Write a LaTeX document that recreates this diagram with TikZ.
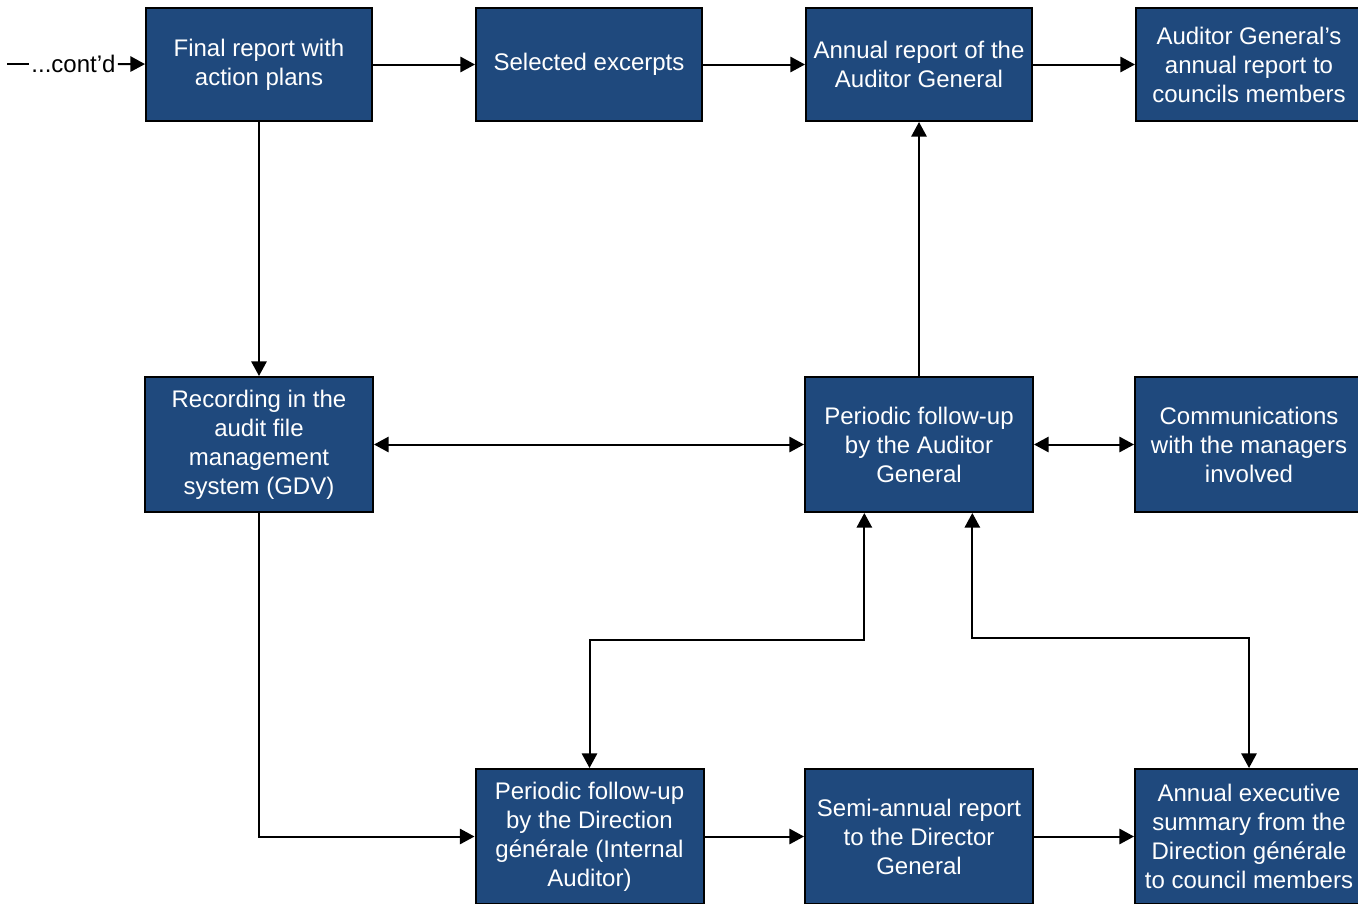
\documentclass[tikz,border=0pt]{standalone}
\usepackage{fontspec}
\setmainfont{Liberation Sans}
\usetikzlibrary{arrows.meta}

\definecolor{boxblue}{RGB}{31,73,125}

\tikzset{every picture/.style={line width=1.5pt}}
\tikzset{
	box/.style={draw=black, fill=boxblue, text=white, align=center, inner sep=0pt,
		minimum width=169.5pt, minimum height=84.75pt,
		font=\fontsize{18}{21.75}\selectfont},
	tall/.style={box, minimum width=171pt, minimum height=101.25pt},
	arr/.style={-{Triangle[length=11pt,width=11.5pt]}},
	dbl/.style={{Triangle[length=11pt,width=11.5pt]}-{Triangle[length=11pt,width=11.5pt]}}}

\begin{document}
\begin{tikzpicture}[x=0.75pt,y=0.75pt,yscale=-1,xscale=1]
	\useasboundingbox (0,0) rectangle (1358,903);

	% Top row
	\node[box] (final) at (259,64.5) {Final report with\\action plans};
	\node[box] (excerpts) at (589,64.5) {Selected excerpts};
	\node[box] (annual) at (919,64.5) {Annual report of the\\Auditor General};
	\node[box] (agreport) at (1249,64.5) {Auditor General’s\\annual report to\\councils members};

	% Middle row
	\node[tall] (recording) at (259,444.5) {Recording in the\\audit file\\management\\system (GDV)};
	\node[tall] (followag) at (919,444.5) {Periodic follow-up\\by the Auditor\\General};
	\node[tall] (comms) at (1249,444.5) {Communications\\with the managers\\involved};

	% Bottom row
	\node[tall] (followdg) at (589.5,836.5) {Periodic follow-up\\by the Direction\\générale (Internal\\Auditor)};
	\node[tall] (semiannual) at (919,836.5) {Semi-annual report\\to the Director\\General};
	\node[tall] (execsum) at (1249,836.5) {Annual executive\\summary from the\\Direction générale\\to council members};

	% Text Node
	\coordinate (start) at (7,64);
	\node[inner sep=1pt, font=\fontsize{18}{21}\selectfont] (contd) at (73.5,64) {...cont’d};

	% Connectors
	\draw (start) -- (contd.west);
	\draw[arr] (contd.east) -- (final);
	\draw[arr] (final) -- (excerpts);
	\draw[arr] (excerpts) -- (annual);
	\draw[arr] (annual) -- (agreport);
	\draw[arr] (final.south) -- (recording.north);
	\draw[dbl] (recording) -- (followag);
	\draw[dbl] (followag) -- (comms);
	\draw[arr] (followag.north) -- (annual.south);
	\draw[arr] (recording.south) |- (followdg.west);
	\draw[dbl] (followdg.north) -- ++(0,-128) -| ([xshift=-41pt]followag.south);
	\draw[dbl] (execsum.north) -- ++(0,-130) -| ([xshift=40pt]followag.south);
	\draw[arr] (followdg) -- (semiannual);
	\draw[arr] (semiannual) -- (execsum);

\end{tikzpicture}
\end{document}
